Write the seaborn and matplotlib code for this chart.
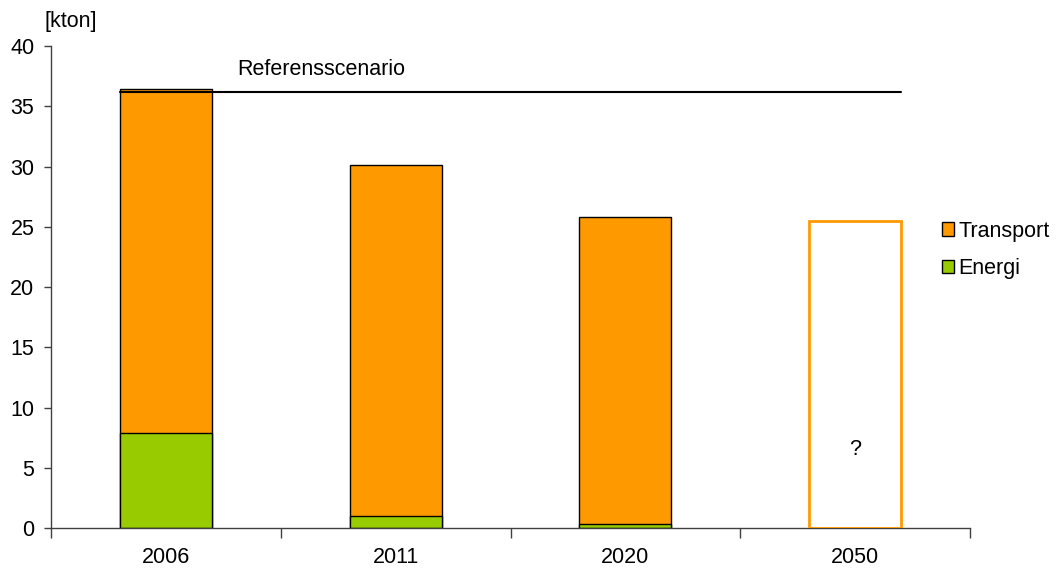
import matplotlib
matplotlib.use("Agg")
import matplotlib.pyplot as plt
import seaborn as sns
import pandas as pd
from matplotlib.patches import Patch

years = ["2006", "2011", "2020", "2050"]
transport = [28.5, 29.1, 25.5, 25.5]
energi = [7.9, 1.0, 0.3, 0.0]
reference_level = 36.2
unit_label = "[kton]"
ref_label = "Referensscenario"
series_labels = ["Transport", "Energi"]

ORANGE = "#FF9900"
GREEN = "#99CC00"

sns.set_theme(style="white")
plt.rcParams["font.family"] = ["Liberation Sans", "DejaVu Sans"]
plt.rcParams["text.color"] = "black"
plt.rcParams["xtick.color"] = "black"
plt.rcParams["ytick.color"] = "black"

FS = 15.5

df = pd.DataFrame({"year": years, "transport": transport, "energi": energi})
df["total"] = df["transport"] + df["energi"]

fig = plt.figure(figsize=(10.57, 5.68), dpi=100)
ax = fig.add_axes([0.0483, 0.0704, 0.8694, 0.8486])

sns.barplot(data=df, x="year", y="total", color=ORANGE, saturation=1,
            edgecolor="black", linewidth=1, width=0.4, ax=ax, errorbar=None)
sns.barplot(data=df, x="year", y="energi", color=GREEN, saturation=1,
            edgecolor="black", linewidth=1, width=0.4, ax=ax, errorbar=None)

# 2050 bar: unfilled orange outline
n = len(years)
p_total = ax.patches[n - 1]
p_total.set_facecolor("none")
p_total.set_edgecolor(ORANGE)
p_total.set_linewidth(2)
p_total.set_zorder(4)
ax.patches[2 * n - 1].set_visible(False)

ax.plot([-0.2, n - 1 + 0.2], [reference_level, reference_level],
        color="black", lw=1.5, zorder=5)
ax.text(0.31, reference_level + 1.0, ref_label, fontsize=FS, va="bottom",
        ha="left")
ax.text(n - 1, 6.5, "?", fontsize=FS, ha="center", va="center")

ax.set_ylim(0, 40)
ax.set_xlim(-0.5, n - 0.5)
ax.set_yticks(range(0, 41, 5))
ax.set_xlabel("")
ax.set_ylabel("")
ax.tick_params(axis="y", direction="out", length=5, width=1, color="#404040",
               labelsize=FS, left=True, pad=7, labelcolor="black")
ax.tick_params(axis="x", which="major", length=0, labelsize=FS, pad=14,
               labelcolor="black")
ax.set_xticks([i - 0.5 for i in range(n + 1)], minor=True)
ax.tick_params(axis="x", which="minor", direction="out", length=7, width=1,
               color="#404040", bottom=True)
for s in ["top", "right"]:
    ax.spines[s].set_visible(False)
for s in ["left", "bottom"]:
    ax.spines[s].set_color("#404040")
    ax.spines[s].set_linewidth(1)

ax.text(-0.007, 1.03, unit_label, transform=ax.transAxes, fontsize=FS,
        ha="left", va="bottom")

handles = [Patch(facecolor=ORANGE, edgecolor="black", label=series_labels[0]),
           Patch(facecolor=GREEN, edgecolor="black", label=series_labels[1])]
ax.legend(handles=handles, loc="center left", bbox_to_anchor=(0.969, 0.577),
          frameon=False, fontsize=FS, handlelength=0.6, handleheight=0.6,
          handletextpad=0.2, labelspacing=0.75, borderaxespad=0,
          borderpad=0)

fig.savefig("out.png", dpi=100)
